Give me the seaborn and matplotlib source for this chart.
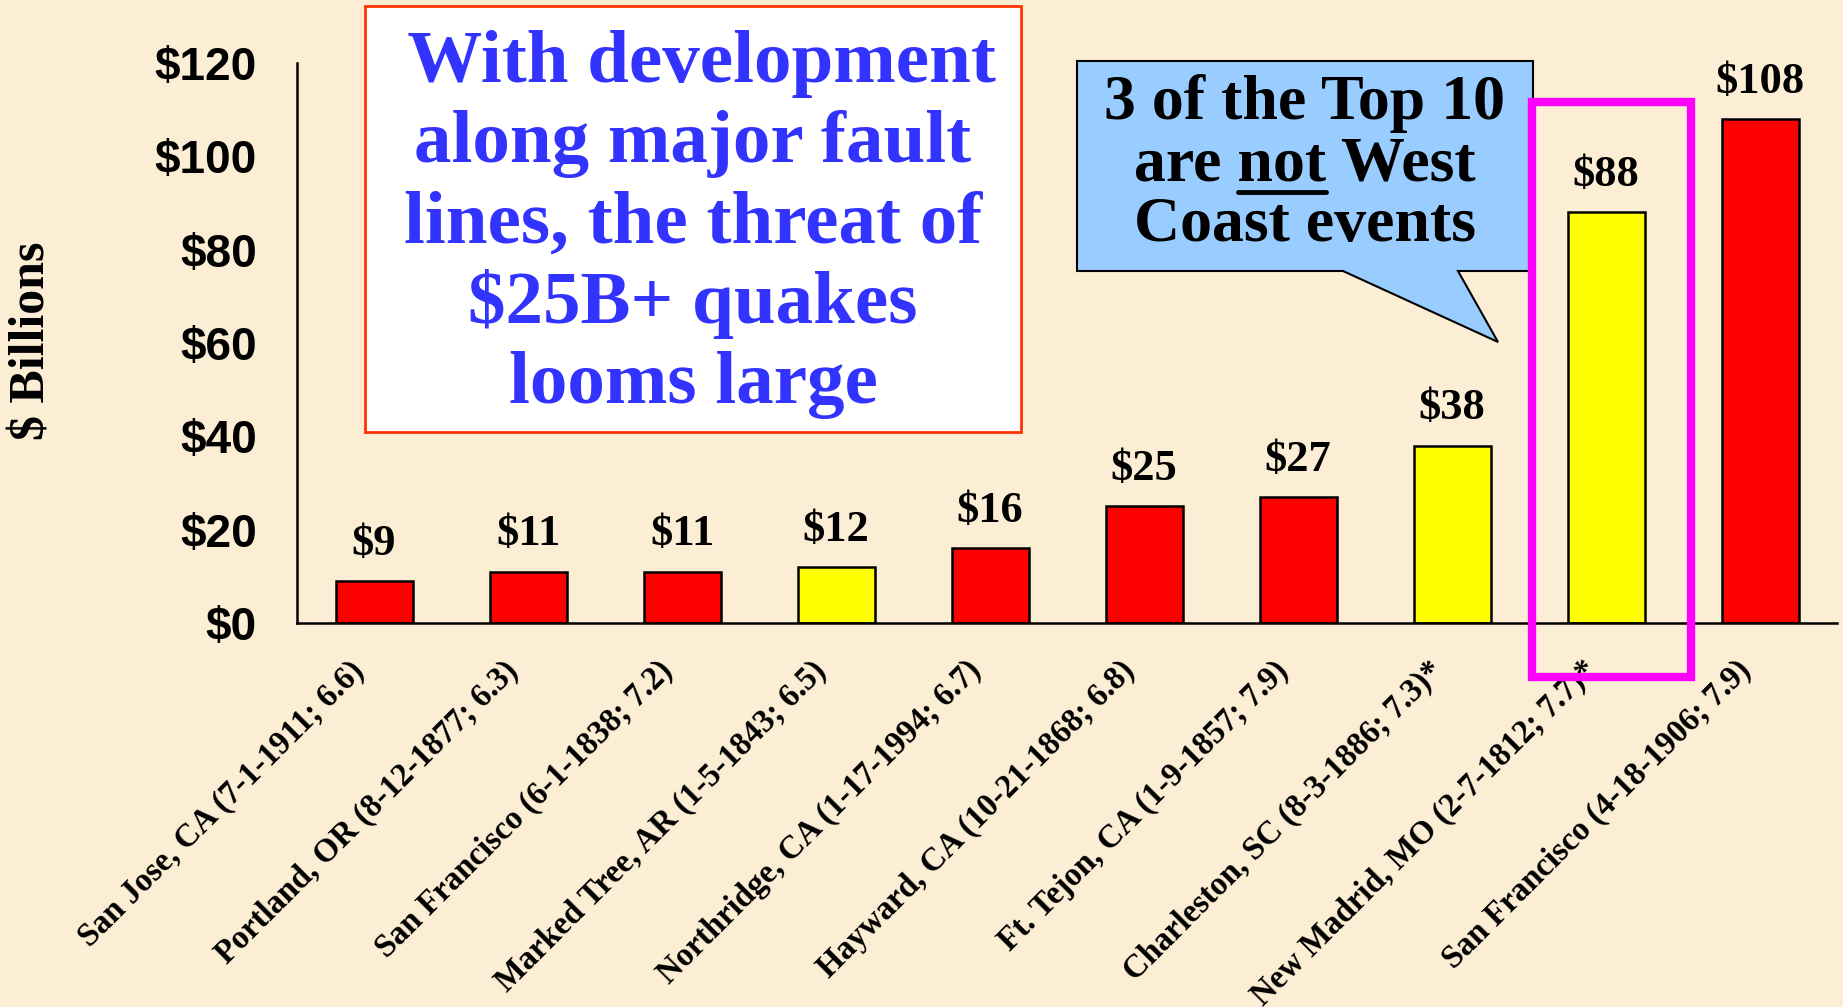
import matplotlib
matplotlib.use("Agg")
import matplotlib.pyplot as plt
import matplotlib.transforms as mtransforms
import pandas as pd
import seaborn as sns
from matplotlib.lines import Line2D
from matplotlib.patches import Polygon, Rectangle

# 十大地震损失（十亿美元）
events = [
    "San Jose, CA (7-1-1911; 6.6)",
    "Portland, OR (8-12-1877; 6.3)",
    "San Francisco (6-1-1838; 7.2)",
    "Marked Tree, AR (1-5-1843; 6.5)",
    "Northridge, CA (1-17-1994; 6.7)",
    "Hayward, CA (10-21-1868; 6.8)",
    "Ft. Tejon, CA (1-9-1857; 7.9)",
    "Charleston, SC (8-3-1886; 7.3)*",
    "New Madrid, MO (2-7-1812; 7.7)*",
    "San Francisco (4-18-1906; 7.9)",
]
losses = [9, 11, 11, 12, 16, 25, 27, 38, 88, 108]
region = ["West", "West", "West", "Other", "West", "West", "West", "Other", "Other", "West"]
yticks = [0, 20, 40, 60, 80, 100, 120]
highlight = 8

note_lines = [" With development", "along major fault", "lines, the threat of", "$25B+ quakes", "looms large"]
callout_lines = ["3 of the Top 10", "are not West", "Coast events"]

W, H = 1843, 1007
BG = "#FBEED4"
SERIF = "Liberation Serif"


def fxy(x, y):
    """像素坐标（左上原点）转 figure 坐标。"""
    return x / W, 1 - y / H


def main():
    df = pd.DataFrame({"pos": range(len(events)), "loss": losses, "region": region})

    sns.set_theme(style="white")
    plt.rcParams["font.family"] = [SERIF, "DejaVu Serif"]
    plt.rcParams["font.weight"] = "bold"

    fig = plt.figure(figsize=(W / 100, H / 100), dpi=100, facecolor=BG)
    ax = fig.add_axes([297 / W, 1 - 623 / H, 1540 / W, 560 / H])
    ax.set_facecolor(BG)

    sns.barplot(data=df, x="pos", y="loss", hue="region",
                palette={"West": "#FF0000", "Other": "#FFFF00"}, saturation=1,
                dodge=False, width=0.5, edgecolor="black", linewidth=1.8,
                legend=False, ax=ax)

    ax.set_xlim(-0.5, len(events) - 0.5)
    ax.set_ylim(0, 120)
    for s in ["top", "right"]:
        ax.spines[s].set_visible(False)
    for s in ["left", "bottom"]:
        ax.spines[s].set_color("black")
        ax.spines[s].set_linewidth(1.8)

    ax.set_yticks(yticks, [f"${v}" for v in yticks])
    ax.tick_params(axis="y", direction="in", length=12, width=1.5, pad=29, labelsize=33, colors="black")
    for lbl in ax.get_yticklabels():
        lbl.set_fontfamily("Liberation Sans")
        lbl.set_fontweight("bold")

    ax.set_xticks(range(len(events)), events, rotation=45, ha="right", va="center",
                  rotation_mode="anchor", fontsize=23.5, fontweight="bold")
    ax.set_xticks([i - 0.5 for i in range(len(events) + 1)], minor=True)
    ax.tick_params(axis="x", which="major", length=0, pad=31, colors="black")
    ax.tick_params(axis="x", which="minor", direction="in", length=8, width=1.5, color="black")
    shift = mtransforms.ScaledTranslation(-14 / 100, 0, fig.dpi_scale_trans)
    for lbl in ax.get_xticklabels():
        lbl.set_transform(lbl.get_transform() + shift)
    ax.set_xlabel("")

    ax.set_ylabel("$ Billions", fontsize=36, fontweight="bold", color="black")
    ax.yaxis.set_label_coords(-0.157, 0.504)

    for i, v in enumerate(losses):
        ax.annotate(f"${v}", (i, v), xytext=(0, 19), textcoords="offset points",
                    ha="center", va="baseline", fontsize=32, fontweight="bold", color="black")

    # 左侧白底说明框
    fig.add_artist(Rectangle(fxy(365, 432), 656 / W, 426 / H, transform=fig.transFigure,
                             facecolor="white", edgecolor="#FF3300", linewidth=2))
    for k, line in enumerate(note_lines):
        fig.text(*fxy(693, 82 + 80.3 * k), line, ha="center", va="baseline",
                 fontsize=54, fontweight="bold", color="#3333FF")

    # 蓝色气泡
    bubble = [(1077, 61), (1533, 61), (1533, 271), (1458, 271), (1498, 342), (1343, 271), (1077, 271)]
    fig.add_artist(Polygon([fxy(x, y) for x, y in bubble], closed=True, transform=fig.transFigure,
                           facecolor="#99CCFF", edgecolor="black", linewidth=1.5))
    cx = 1305
    for k, line in enumerate(callout_lines):
        fig.text(*fxy(cx, 119 + 61 * k), line, ha="center", va="baseline",
                 fontsize=46, fontweight="bold", color="black")

    # "not" 下划线
    fig.canvas.draw()
    r = fig.canvas.get_renderer()

    def text_w(s):
        t = fig.text(0, 0, s, fontsize=46, fontweight="bold")
        w = t.get_window_extent(r).width
        t.remove()
        return w

    left = cx - text_w("are not West") / 2
    x1 = left + text_w("are not")
    x0 = x1 - text_w("not")
    fig.add_artist(Line2D([x0 / W, x1 / W], [1 - 192 / H, 1 - 192 / H], transform=fig.transFigure,
                          color="black", linewidth=3.5))

    # 品红高亮框
    x_l = ax.transData.transform((highlight - 0.48, 0))[0]
    x_r = ax.transData.transform((highlight + 0.55, 0))[0]
    fig.add_artist(Rectangle((x_l / W, 1 - 677 / H), (x_r - x_l) / W, 575 / H, transform=fig.transFigure,
                             facecolor="none", edgecolor="#FF00FF", linewidth=6))

    fig.savefig("out.png", dpi=100, facecolor=BG)
    plt.close(fig)


if __name__ == "__main__":
    main()
